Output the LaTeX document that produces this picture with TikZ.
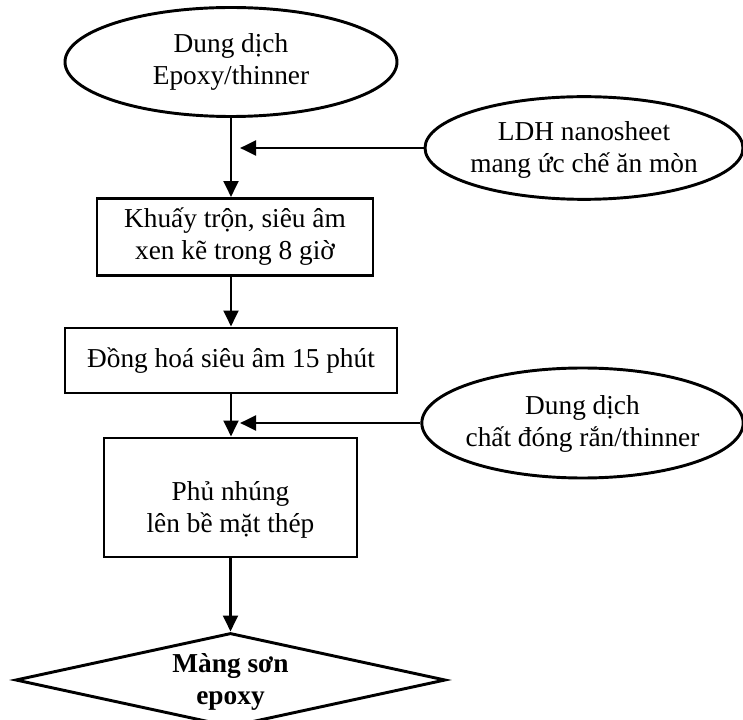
\documentclass[tikz,border=0pt]{standalone}
\usepackage{fontspec}
\setmainfont{Liberation Serif}
\usetikzlibrary{shapes.geometric,arrows.meta,calc}
\begin{document}
\begin{tikzpicture}[x=0.75pt,y=-0.75pt,
  line width=2.2pt,
  every node/.style={font=\fontsize{20.5}{24}\selectfont, align=center, inner sep=0pt},
  oval/.style={draw, ellipse},
  stepbox/.style={draw, rectangle},
  result/.style={draw, diamond},
  arr/.style={-{Triangle[length=12pt,width=11pt]}},
]
\useasboundingbox (0,0) rectangle (743,720);

% inputs
\node[oval, minimum width=249pt, minimum height=81.75pt] (e1) at (231,62) {};
\node (e1t) at (e1) {Dung dịch\\Epoxy/thinner};

\node[oval, minimum width=238.5pt, minimum height=77pt] (e2) at (584,148) {};
\node (e2t) at ($(e2)+(0,2)$) {LDH nanosheet\\mang ức chế ăn mòn};

\node[oval, minimum width=241pt, minimum height=82.5pt] (e3) at (582.5,423) {};
\node (e3t) at ($(e3)+(0,1)$) {Dung dịch\\chất đóng rắn/thinner};

% process steps
\node[stepbox, minimum width=207pt, minimum height=57.75pt] (b1) at (235,237) {Khuấy trộn, siêu âm\\xen kẽ trong 8 giờ};
\node[stepbox, minimum width=249pt, minimum height=48.75pt] (b2) at (231,360.5) {Đồng hoá siêu âm 15 phút};
\node[stepbox, minimum width=189.75pt, minimum height=89.25pt] (b3) at (230.5,497.5) {};
\node (b3t) at ($(b3)+(0,12)$) {Phủ nhúng\\lên bề mặt thép};

% result
\node[result, minimum width=322.5pt, minimum height=70.5pt] (d) at (230.5,680) {};
\node[font=\bfseries\fontsize{20.5}{24}\selectfont] (dt) at ($(d)+(0,2)$) {Màng sơn\\epoxy};

% flow
\draw[arr] (e1.south) -- (e1.south |- b1.north);
\draw[arr] (b2.north |- b1.south) -- (b2.north);
\draw[arr] (b2.south) -- (b2.south |- b3.north);
\draw[arr] (b3.south) -- (d.north);

% side feeds
\draw[arr] (e2.west) -- ($(e1.south |- e2.west)+(9,0)$);
\draw[arr] (e3.west) -- ($(b2.south |- e3.west)+(9,0)$);
\end{tikzpicture}
\end{document}
